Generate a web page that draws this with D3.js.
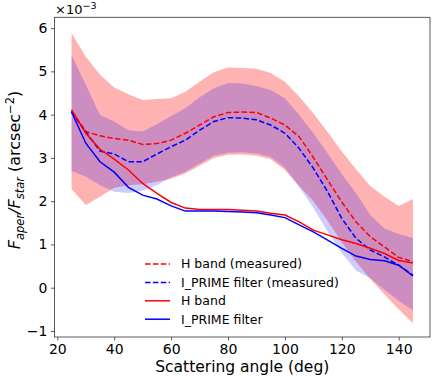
<!DOCTYPE html>
<html><head><meta charset="utf-8">
<script src="https://cdn.jsdelivr.net/npm/d3@7"></script>
<style>
body{margin:0;background:#fff;}
text{font-family:"DejaVu Sans",sans-serif;fill:#000;}
</style></head>
<body><svg id="c" width="436" height="381"></svg>
<script>
const angles = [25,30,35,40,45,50,55,60,65,70,75,80,85,90,95,100,105,110,115,120,125,130,135,140,145];
const hMeasured = [4.09,3.61,3.51,3.45,3.41,3.31,3.33,3.41,3.57,3.76,3.95,4.05,4.06,4.05,3.92,3.76,3.49,3.01,2.49,1.98,1.52,1.18,0.94,0.70,0.60];
const iMeasured = [4.06,3.60,3.16,3.09,2.91,2.91,3.09,3.26,3.41,3.64,3.84,3.93,3.92,3.88,3.76,3.57,3.22,2.76,2.22,1.60,1.14,0.87,0.71,0.52,0.29];
const hModel = [4.11,3.57,3.20,2.97,2.72,2.41,2.18,1.97,1.84,1.81,1.81,1.81,1.79,1.77,1.72,1.68,1.52,1.33,1.22,1.11,1.02,0.91,0.79,0.63,0.57];
const iModel = [4.06,3.34,2.91,2.67,2.32,2.14,2.05,1.89,1.77,1.77,1.77,1.76,1.75,1.73,1.68,1.62,1.45,1.29,1.10,0.91,0.73,0.65,0.62,0.52,0.27];
const hUpper = [5.88,5.34,4.92,4.63,4.47,4.34,4.36,4.38,4.53,4.76,4.98,5.09,5.08,5.06,4.96,4.76,4.42,4.03,3.60,3.15,2.74,2.35,2.10,1.89,2.05];
const hLower = [2.28,1.91,2.10,2.31,2.37,2.39,2.45,2.52,2.64,2.82,3.00,3.07,3.08,3.05,2.97,2.72,2.35,2.00,1.55,1.05,0.60,0.20,-0.15,-0.50,-0.82];
const iUpper = [5.38,4.69,3.99,3.84,3.64,3.61,3.78,3.97,4.15,4.40,4.61,4.73,4.72,4.66,4.57,4.38,3.99,3.57,3.11,2.62,2.18,1.68,1.37,1.24,1.15];
const iLower = [2.70,2.57,2.37,2.22,2.19,2.24,2.37,2.55,2.68,2.87,3.05,3.12,3.13,3.10,3.02,2.77,2.33,1.85,1.30,0.80,0.40,0.22,-0.05,-0.30,-0.52];
const xTicks = [20,40,60,80,100,120,140];
const yTicks = [-1,0,1,2,3,4,5,6];
const legendLabels = ["H band (measured)","I_PRIME filter (measured)","H band","I_PRIME filter"];

const svg = d3.select("#c");
const L=54.5, R=430, T=17.3, B=337;
const x = d3.scaleLinear().domain([19,151]).range([L,R]);
const y = d3.scaleLinear().domain([-1.14,6.25]).range([B,T]);

const area = (up,lo)=>d3.area().x((d,i)=>x(angles[i])).y0((d,i)=>y(lo[i])).y1((d,i)=>y(up[i]))(angles);
const line = (v)=>d3.line().x((d,i)=>x(angles[i])).y((d,i)=>y(v[i]))(angles);

svg.append("path").attr("d",area(hUpper,hLower)).attr("fill","#ff0000").attr("fill-opacity",0.3);
svg.append("path").attr("d",area(iUpper,iLower)).attr("fill","#0000ff").attr("fill-opacity",0.2);

const series = [
  {v:hMeasured,c:"#ff0000",dash:"5.5,2.4"},
  {v:iMeasured,c:"#0000ff",dash:"5.5,2.4"},
  {v:hModel,c:"#ff0000",dash:null},
  {v:iModel,c:"#0000ff",dash:null}
];
series.forEach(s=>{
  svg.append("path").attr("d",line(s.v)).attr("fill","none").attr("stroke",s.c)
    .attr("stroke-width",1.5).attr("stroke-dasharray",s.dash);
});

// axes
const xa = svg.append("g").attr("transform",`translate(0,${B})`)
  .call(d3.axisBottom(x).tickValues(xTicks).tickSize(3.5).tickPadding(3.5).tickFormat(d3.format("d")));
const ya = svg.append("g").attr("transform",`translate(${L},0)`)
  .call(d3.axisLeft(y).tickValues(yTicks).tickSize(3.5).tickPadding(3.5).tickFormat(d=>d<0?"\u2212"+Math.abs(d):d));
[xa,ya].forEach(a=>{a.select(".domain").remove();a.selectAll("line").attr("stroke","#333").attr("stroke-width",0.8);
  a.selectAll("text").style("font-family","DejaVu Sans").style("font-size","14px").attr("fill","#000");});
svg.append("rect").attr("x",L).attr("y",T).attr("width",R-L).attr("height",B-T)
  .attr("fill","none").attr("stroke","#333").attr("stroke-width",0.8);

// offset text
const off = svg.append("text").attr("x",55).attr("y",14).style("font-size","13px");
off.append("tspan").text("\u00d710");
off.append("tspan").attr("dy",-5).style("font-size","9.5px").text("\u22123");

// x label
svg.append("text").attr("x",(L+R)/2).attr("y",372).attr("text-anchor","middle")
  .style("font-size","15.5px").text("Scattering angle (deg)");

// y label
const yl = svg.append("text").attr("transform",`translate(20,170) rotate(-90)`)
  .attr("text-anchor","middle").style("font-size","16px");
yl.append("tspan").style("font-style","italic").text("F");
yl.append("tspan").attr("dy",4).style("font-size","11.5px").style("font-style","italic").text("aper");
yl.append("tspan").attr("dy",-4).style("font-style","italic").text("/F");
yl.append("tspan").attr("dy",4).style("font-size","11.5px").style("font-style","italic").text("star");
yl.append("tspan").attr("dy",-4).text(" (arcsec");
yl.append("tspan").attr("dy",-6).style("font-size","11.5px").text("\u22122");
yl.append("tspan").attr("dy",6).text(")");

// legend
const lg = svg.append("g");
legendLabels.forEach((t,i)=>{
  const yy = 264 + i*18.4;
  lg.append("line").attr("x1",145).attr("x2",170).attr("y1",yy).attr("y2",yy)
    .attr("stroke",series[i].c).attr("stroke-width",1.5).attr("stroke-dasharray",series[i].dash);
  lg.append("text").attr("x",181).attr("y",yy).attr("dy","0.35em").style("font-size","12.5px").text(t);
});
</script></body></html>
